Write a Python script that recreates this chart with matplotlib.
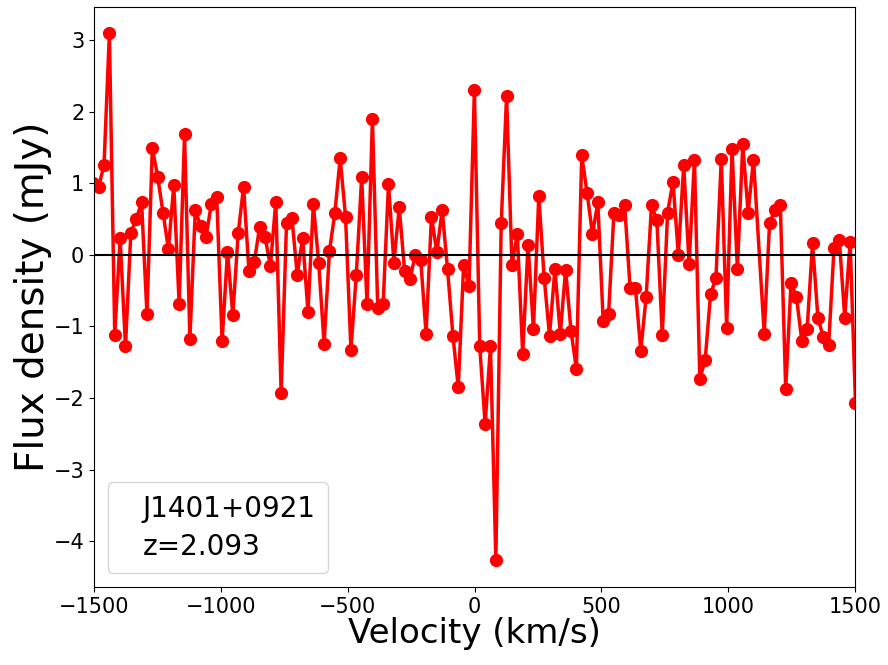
import numpy as np
import matplotlib
matplotlib.use("Agg")
import matplotlib.pyplot as plt

# ---- data -------------------------------------------------------------
channel_width = 21.16          # km/s
first_velocity = -1524.0       # km/s (channel index -1)
# channel indices (one channel, 124, is absent in the spectrum)
channels = np.r_[np.arange(-1, 124), np.arange(125, 143)]
velocity = first_velocity + channel_width * (channels + 1)

flux = [
    -1.37,
    1.00, 0.95, 1.25, 3.09, -1.12, 0.23, -1.28, 0.31, 0.50, 0.73,
    -0.83, 1.49, 1.09, 0.59, 0.08, 0.97, -0.69, 1.68, -1.18, 0.62,
    0.40, 0.25, 0.71, 0.81, -1.21, 0.04, -0.84, 0.30, 0.95, -0.22,
    -0.10, 0.39, 0.25, -0.16, 0.74, -1.93, 0.44, 0.52, -0.28, 0.24,
    -0.80, 0.71, -0.12, -1.24, 0.05, 0.58, 1.35, 0.53, -1.33, -0.28,
    1.08, -0.69, 1.89, -0.75, -0.69, 0.99, -0.11, 0.66, -0.22, -0.34,
    0.00, -0.07, -1.10, 0.53, 0.04, 0.62, -0.20, -1.13, -1.85, -0.14,
    -0.44, 2.30, -1.28, -2.36, -1.28, -4.26, 0.44, 2.22, -0.14, 0.29,
    -1.38, 0.14, -1.04, 0.82, -0.32, -1.13, -0.20, -1.10, -0.21, -1.06,
    -1.59, 1.39, 0.86, 0.29, 0.73, -0.93, -0.83, 0.59, 0.56, 0.69,
    -0.46, -0.46, -1.34, -0.59, 0.69, 0.48, -1.12, 0.59, 1.02, 0.00,
    1.25, -0.13, 1.33, -1.73, -1.47, -0.55, -0.33, 1.34, -1.02, 1.48,
    -0.20, 1.54, 0.59, 1.33,
    -1.10, 0.45, 0.62, 0.69, -1.87, -0.39, -0.59, -1.20, -1.03, 0.16,
    -0.88, -1.15, -1.26, 0.09, 0.20, -0.88, 0.18, -2.07,
]

x_ticks = [-1500, -1000, -500, 0, 500, 1000, 1500]
y_ticks = [-4, -3, -2, -1, 0, 1, 2, 3]
source_label = "J1401+0921\nz=2.093"
x_label = "Velocity (km/s)"
y_label = "Flux density (mJy)"

plt.rcParams["font.family"] = ["DejaVu Sans"]

# ---- figure -----------------------------------------------------------
fig = plt.figure(figsize=(8.88, 6.65), dpi=100)
ax = fig.add_axes([94 / 888, 78 / 665, 761 / 888, 580 / 665])

ax.plot(velocity, flux, "-o", color="red", lw=2.5, ms=8.5)
ax.plot([], [], " ", label=source_label)
ax.axhline(0, color="black", lw=1.5)

ax.set_xlim(-1500, 1500)
ax.set_ylim(-4.64, 3.46)
ax.set_xticks(x_ticks)
ax.set_yticks(y_ticks)
ax.tick_params(labelsize=15)

ax.set_xlabel(x_label, fontsize=24.5, labelpad=0)
ax.set_ylabel(y_label, fontsize=28, labelpad=1)

leg = ax.legend(loc="lower left", fontsize=20, handlelength=0,
                handletextpad=0.8, borderaxespad=0.5, borderpad=0.45)
for t in leg.get_texts():
    t.set_linespacing(1.45)

fig.savefig("out.png", dpi=100)
